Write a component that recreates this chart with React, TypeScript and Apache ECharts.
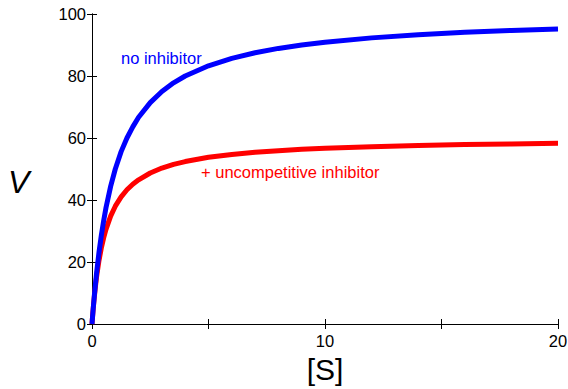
import React, { useEffect, useRef } from "react";
import * as echarts from "echarts";

const substrate = [0, 0.02, 0.05, 0.1, 0.15, 0.2, 0.3, 0.4, 0.5, 0.6, 0.8, 1, 1.25, 1.5, 1.75, 2, 2.5, 3, 3.5, 4, 5, 6, 7, 8, 9, 10, 12, 14, 16, 18, 20];
const noInhibitor = [0, 2.0, 4.8, 9.1, 13.0, 16.7, 23.1, 28.6, 33.3, 37.5, 44.4, 50, 55.6, 60, 63.6, 66.7, 71.4, 75, 77.8, 80, 83.3, 85.7, 87.5, 88.9, 90, 90.9, 92.3, 93.3, 94.1, 94.7, 95.2];
const uncompetitive = [0, 2.0, 4.8, 8.8, 12.3, 15.4, 20.5, 24.5, 27.8, 30.5, 34.8, 38.0, 41.0, 43.3, 45.1, 46.5, 48.7, 50.3, 51.5, 52.4, 53.8, 54.7, 55.4, 55.9, 56.4, 56.7, 57.2, 57.6, 57.9, 58.1, 58.3];
const xTicks = [0, 10, 20];
const yTicks = [0, 20, 40, 60, 80, 100];

const FONT = "'Liberation Sans', Arial, Helvetica, sans-serif";

export default function App() {
  const ref = useRef<HTMLDivElement>(null);
  useEffect(() => {
    document.body.style.margin = "0";
    document.body.style.overflow = "hidden";
    if (!ref.current) return;
    const chart = echarts.init(ref.current, undefined, { renderer: "svg" });
    const blue = substrate.map((s, i) => [s, noInhibitor[i]]);
    const red = substrate.map((s, i) => [s, uncompetitive[i]]);
    const axisLine = { show: true, lineStyle: { color: "#000", width: 1 } };
    const tick = { show: true, inside: true, length: 5, lineStyle: { color: "#000" } };
    chart.setOption({
      animation: false,
      backgroundColor: "#fff",
      grid: { left: 92, top: 14, right: 10, bottom: 65, containLabel: false, outerBoundsMode: "none" },
      xAxis: [
        {
          type: "value", min: 0, max: 20, interval: 5, position: "bottom",
          axisLine, axisTick: tick, splitLine: { show: false },
          axisLabel: {
            color: "#000", fontSize: 16.5, fontFamily: FONT, margin: 8,
            formatter: (v: number) => (xTicks.includes(v) ? String(v) : ""),
          },
          name: "[S]", nameLocation: "middle", nameGap: 30,
          nameTextStyle: { color: "#000", fontSize: 30, fontFamily: FONT },
        },
        {
          type: "value", min: 0, max: 20, interval: 5, position: "top",
          axisLine, axisTick: tick, axisLabel: { show: false }, splitLine: { show: false },
        },
      ],
      yAxis: [
        {
          type: "value", min: 0, max: 100, interval: 20, position: "left",
          axisLine, axisTick: tick, splitLine: { show: false },
          axisLabel: {
            color: "#000", fontSize: 16.5, fontFamily: FONT, margin: 6,
            formatter: (v: number) => (yTicks.includes(v) ? String(v) : ""),
          },
        },
        {
          type: "value", min: 0, max: 100, interval: 20, position: "right",
          axisLine, axisTick: tick, axisLabel: { show: false }, splitLine: { show: false },
        },
      ],
      series: [
        {
          type: "line", data: blue, smooth: false, showSymbol: false,
          lineStyle: { color: "#0000ff", width: 5, join: "round" }, z: 3,
        },
        {
          type: "line", data: red, smooth: false, showSymbol: false,
          lineStyle: { color: "#ff0000", width: 5, join: "round" }, z: 2,
        },
      ],
      graphic: [
        {
          type: "text", x: 8, y: 182,
          style: {
            text: "V", fill: "#000", fontSize: 32, fontStyle: "italic", fontFamily: FONT,
            verticalAlign: "middle", align: "left",
          },
        },
        {
          type: "text", left: 121, top: 49,
          style: { text: "no inhibitor", fill: "#0000ff", fontSize: 16.5, fontFamily: FONT },
        },
        {
          type: "text", left: 201, top: 163,
          style: { text: "+ uncompetitive inhibitor", fill: "#ff0000", fontSize: 16.5, fontFamily: FONT },
        },
      ],
    });
    return () => chart.dispose();
  }, []);
  return <div ref={ref} style={{ width: 568, height: 389, overflow: "hidden" }} />;
}
